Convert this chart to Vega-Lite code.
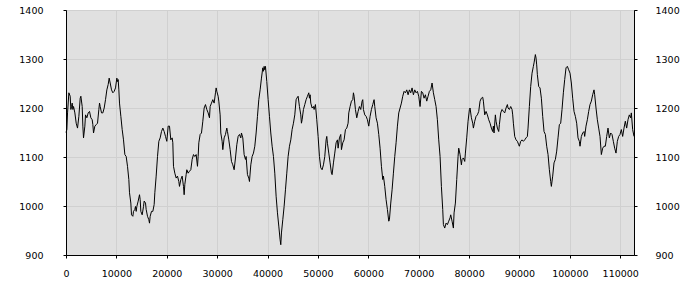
{
 "$schema": "https://vega.github.io/schema/vega-lite/v6.json",
 "width": 568, "height": 245,
 "autosize": {"type": "none"},
 "padding": {"left": 66, "top": 10, "right": 66, "bottom": 45},
 "background": "white",
 "config": {
  "view": {"fill": "#e0e0e0", "stroke": "black", "strokeWidth": 1},
  "axis": {"labelFont": "DejaVu Sans", "labelFontSize": 9.5, "labelColor": "black", "domainColor": "black", "tickColor": "black", "tickSize": 3, "gridColor": "#d0d0d0", "title": null}
 },
 "data": {"values": [
{"t":0,"v":1150},{"t":172,"v":1156},{"t":304,"v":1190},{"t":569,"v":1231},{"t":833,"v":1224},{"t":966,"v":1197},{"t":1098,"v":1203},{"t":1230,"v":1210},{"t":1362,"v":1197},{"t":1495,"v":1203},{"t":1759,"v":1190},{"t":2024,"v":1169},{"t":2288,"v":1159},{"t":2553,"v":1183},{"t":2817,"v":1220},{"t":2950,"v":1224},{"t":3214,"v":1203},{"t":3346,"v":1163},{"t":3479,"v":1139},{"t":3743,"v":1163},{"t":3875,"v":1186},{"t":4140,"v":1180},{"t":4404,"v":1190},{"t":4669,"v":1193},{"t":4933,"v":1180},{"t":5198,"v":1176},{"t":5330,"v":1166},{"t":5462,"v":1149},{"t":5727,"v":1163},{"t":5992,"v":1166},{"t":6256,"v":1169},{"t":6521,"v":1197},{"t":6653,"v":1210},{"t":6785,"v":1203},{"t":7050,"v":1190},{"t":7314,"v":1190},{"t":7579,"v":1200},{"t":7843,"v":1217},{"t":8108,"v":1237},{"t":8372,"v":1248},{"t":8571,"v":1261},{"t":8769,"v":1251},{"t":9034,"v":1237},{"t":9298,"v":1231},{"t":9563,"v":1234},{"t":9827,"v":1241},{"t":10092,"v":1261},{"t":10224,"v":1254},{"t":10356,"v":1258},{"t":10489,"v":1237},{"t":10621,"v":1210},{"t":10885,"v":1183},{"t":11150,"v":1156},{"t":11414,"v":1135},{"t":11679,"v":1105},{"t":11943,"v":1101},{"t":12208,"v":1081},{"t":12472,"v":1054},{"t":12604,"v":1027},{"t":12869,"v":1006},{"t":13001,"v":982},{"t":13266,"v":979},{"t":13398,"v":989},{"t":13663,"v":993},{"t":13795,"v":999},{"t":13927,"v":989},{"t":14060,"v":999},{"t":14324,"v":1010},{"t":14589,"v":1023},{"t":14721,"v":1013},{"t":14853,"v":989},{"t":15118,"v":982},{"t":15382,"v":999},{"t":15514,"v":1010},{"t":15779,"v":1006},{"t":15911,"v":993},{"t":16176,"v":979},{"t":16440,"v":972},{"t":16573,"v":965},{"t":16705,"v":979},{"t":16970,"v":989},{"t":17234,"v":989},{"t":17499,"v":1003},{"t":17631,"v":1027},{"t":17896,"v":1061},{"t":18160,"v":1101},{"t":18425,"v":1132},{"t":18689,"v":1139},
{"t":18953,"v":1152},{"t":19218,"v":1159},{"t":19482,"v":1152},{"t":19747,"v":1142},{"t":20011,"v":1132},{"t":20276,"v":1163},{"t":20540,"v":1163},{"t":20805,"v":1135},{"t":21070,"v":1139},{"t":21202,"v":1129},{"t":21334,"v":1081},{"t":21599,"v":1067},{"t":21863,"v":1057},{"t":22128,"v":1061},{"t":22392,"v":1050},{"t":22524,"v":1040},{"t":22789,"v":1054},{"t":23053,"v":1061},{"t":23318,"v":1040},{"t":23450,"v":1023},{"t":23583,"v":1044},{"t":23847,"v":1064},{"t":23979,"v":1074},{"t":24244,"v":1067},{"t":24508,"v":1071},{"t":24773,"v":1074},{"t":25037,"v":1095},{"t":25302,"v":1105},{"t":25566,"v":1101},{"t":25831,"v":1105},{"t":26095,"v":1081},{"t":26228,"v":1101},{"t":26360,"v":1129},{"t":26625,"v":1146},{"t":26889,"v":1149},{"t":27154,"v":1173},{"t":27418,"v":1200},{"t":27683,"v":1207},{"t":27947,"v":1197},{"t":28212,"v":1190},{"t":28476,"v":1180},{"t":28608,"v":1203},{"t":28873,"v":1210},{"t":29137,"v":1217},{"t":29402,"v":1210},{"t":29666,"v":1231},{"t":29799,"v":1241},{"t":29931,"v":1234},{"t":30196,"v":1224},{"t":30328,"v":1214},{"t":30592,"v":1186},{"t":30725,"v":1149},{"t":30989,"v":1132},{"t":31122,"v":1115},{"t":31386,"v":1139},{"t":31651,"v":1146},{"t":31915,"v":1159},{"t":32048,"v":1152},{"t":32312,"v":1135},{"t":32577,"v":1115},{"t":32841,"v":1091},{"t":33106,"v":1084},{"t":33370,"v":1074},{"t":33635,"v":1098},{"t":33899,"v":1125},{"t":34164,"v":1142},{"t":34428,"v":1146},{"t":34693,"v":1139},{"t":34825,"v":1149},{"t":35090,"v":1139},{"t":35354,"v":1105},{"t":35619,"v":1095},{"t":35751,"v":1101},{"t":36016,"v":1064},{"t":36280,"v":1057},{"t":36412,"v":1050},{"t":36677,"v":1084},{"t":36941,"v":1101},{"t":37206,"v":1108},
{"t":37471,"v":1122},{"t":37736,"v":1149},{"t":38000,"v":1183},{"t":38265,"v":1217},{"t":38529,"v":1237},{"t":38794,"v":1261},{"t":39058,"v":1282},{"t":39191,"v":1275},{"t":39323,"v":1285},{"t":39455,"v":1278},{"t":39587,"v":1285},{"t":39852,"v":1254},{"t":40116,"v":1217},{"t":40381,"v":1183},{"t":40645,"v":1149},{"t":40910,"v":1122},{"t":41174,"v":1101},{"t":41439,"v":1067},{"t":41703,"v":1020},{"t":41968,"v":986},{"t":42232,"v":959},{"t":42497,"v":931},{"t":42629,"v":921},{"t":42761,"v":945},{"t":43026,"v":972},{"t":43291,"v":999},{"t":43555,"v":1033},{"t":43820,"v":1067},{"t":44084,"v":1101},{"t":44349,"v":1122},{"t":44613,"v":1135},{"t":44878,"v":1156},{"t":45142,"v":1169},{"t":45407,"v":1186},{"t":45671,"v":1217},{"t":45804,"v":1220},{"t":46068,"v":1224},{"t":46333,"v":1203},{"t":46597,"v":1186},{"t":46730,"v":1169},{"t":46862,"v":1176},{"t":47126,"v":1197},{"t":47391,"v":1207},{"t":47655,"v":1217},{"t":47920,"v":1224},{"t":48184,"v":1231},{"t":48317,"v":1220},{"t":48449,"v":1227},{"t":48581,"v":1210},{"t":48846,"v":1200},{"t":49111,"v":1203},{"t":49243,"v":1197},{"t":49508,"v":1207},{"t":49772,"v":1176},{"t":50037,"v":1142},{"t":50301,"v":1101},{"t":50566,"v":1078},{"t":50830,"v":1074},{"t":51095,"v":1084},{"t":51359,"v":1101},{"t":51624,"v":1135},{"t":51756,"v":1142},{"t":51888,"v":1128},{"t":52153,"v":1108},{"t":52417,"v":1088},{"t":52682,"v":1067},{"t":52814,"v":1064},{"t":53079,"v":1088},{"t":53343,"v":1108},{"t":53608,"v":1129},{"t":53873,"v":1135},{"t":54005,"v":1118},{"t":54269,"v":1139},{"t":54534,"v":1146},{"t":54666,"v":1115},{"t":54931,"v":1129},{"t":55195,"v":1135},{"t":55460,"v":1156},{"t":55724,"v":1159},{"t":55989,"v":1169},
{"t":56121,"v":1190},{"t":56386,"v":1203},{"t":56650,"v":1214},{"t":56915,"v":1217},{"t":57047,"v":1231},{"t":57179,"v":1224},{"t":57444,"v":1197},{"t":57708,"v":1180},{"t":57973,"v":1193},{"t":58237,"v":1203},{"t":58502,"v":1197},{"t":58766,"v":1214},{"t":58899,"v":1217},{"t":59031,"v":1197},{"t":59295,"v":1186},{"t":59560,"v":1183},{"t":59824,"v":1176},{"t":60089,"v":1163},{"t":60353,"v":1183},{"t":60618,"v":1197},{"t":60882,"v":1207},{"t":61147,"v":1217},{"t":61279,"v":1203},{"t":61544,"v":1180},{"t":61808,"v":1169},{"t":62073,"v":1146},{"t":62337,"v":1118},{"t":62602,"v":1081},{"t":62866,"v":1054},{"t":62999,"v":1061},{"t":63263,"v":1040},{"t":63528,"v":1013},{"t":63792,"v":993},{"t":64057,"v":969},{"t":64189,"v":972},{"t":64454,"v":1006},{"t":64718,"v":1033},{"t":64983,"v":1067},{"t":65247,"v":1101},{"t":65512,"v":1129},{"t":65776,"v":1163},{"t":66041,"v":1190},{"t":66305,"v":1200},{"t":66570,"v":1210},{"t":66834,"v":1224},{"t":67099,"v":1234},{"t":67364,"v":1231},{"t":67628,"v":1237},{"t":67893,"v":1227},{"t":68157,"v":1237},{"t":68422,"v":1231},{"t":68686,"v":1241},{"t":68951,"v":1227},{"t":69215,"v":1237},{"t":69480,"v":1231},{"t":69744,"v":1234},{"t":70009,"v":1224},{"t":70273,"v":1203},{"t":70538,"v":1234},{"t":70802,"v":1231},{"t":71067,"v":1220},{"t":71331,"v":1227},{"t":71596,"v":1214},{"t":71860,"v":1224},{"t":72125,"v":1234},{"t":72389,"v":1237},{"t":72654,"v":1251},{"t":72918,"v":1231},{"t":73183,"v":1217},{"t":73447,"v":1203},{"t":73712,"v":1176},{"t":73976,"v":1135},{"t":74241,"v":1101},{"t":74505,"v":1040},
{"t":74770,"v":993},{"t":74903,"v":962},{"t":75167,"v":955},{"t":75432,"v":965},{"t":75696,"v":962},{"t":75961,"v":969},{"t":76225,"v":976},{"t":76357,"v":982},{"t":76622,"v":969},{"t":76886,"v":955},{"t":77019,"v":986},{"t":77283,"v":1006},{"t":77548,"v":1054},{"t":77812,"v":1101},{"t":77945,"v":1118},{"t":78209,"v":1105},{"t":78474,"v":1084},{"t":78606,"v":1095},{"t":78871,"v":1098},{"t":79135,"v":1091},{"t":79268,"v":1108},{"t":79532,"v":1139},{"t":79797,"v":1173},{"t":80061,"v":1197},{"t":80193,"v":1200},{"t":80458,"v":1180},{"t":80722,"v":1169},{"t":80855,"v":1159},{"t":81120,"v":1173},{"t":81384,"v":1183},{"t":81648,"v":1186},{"t":81913,"v":1193},{"t":82177,"v":1214},{"t":82442,"v":1220},{"t":82706,"v":1222},{"t":82839,"v":1214},{"t":83103,"v":1186},{"t":83368,"v":1193},{"t":83632,"v":1186},{"t":83897,"v":1176},{"t":84161,"v":1169},{"t":84426,"v":1159},{"t":84690,"v":1152},{"t":84823,"v":1163},{"t":84955,"v":1149},{"t":85219,"v":1186},{"t":85352,"v":1173},{"t":85616,"v":1159},{"t":85881,"v":1152},{"t":86013,"v":1166},{"t":86278,"v":1190},{"t":86542,"v":1197},{"t":86807,"v":1193},{"t":87071,"v":1190},{"t":87336,"v":1200},{"t":87600,"v":1207},{"t":87733,"v":1200},{"t":87997,"v":1197},{"t":88262,"v":1203},{"t":88526,"v":1197},{"t":88659,"v":1186},{"t":88791,"v":1169},{"t":89055,"v":1142},{"t":89320,"v":1135},{"t":89585,"v":1132},{"t":89849,"v":1125},{"t":89981,"v":1122},{"t":90246,"v":1132},{"t":90510,"v":1135},{"t":90775,"v":1132},{"t":91039,"v":1135},{"t":91304,"v":1139},{"t":91568,"v":1142},{"t":91700,"v":1159},{"t":91965,"v":1203},{"t":92229,"v":1244},{"t":92494,"v":1271},{"t":92758,"v":1285},
{"t":92891,"v":1292},{"t":93156,"v":1309},{"t":93288,"v":1302},{"t":93420,"v":1288},{"t":93552,"v":1268},{"t":93817,"v":1244},{"t":94081,"v":1241},{"t":94346,"v":1220},{"t":94610,"v":1183},{"t":94875,"v":1152},{"t":95140,"v":1146},{"t":95404,"v":1122},{"t":95669,"v":1105},{"t":95933,"v":1074},{"t":96198,"v":1050},{"t":96330,"v":1040},{"t":96595,"v":1061},{"t":96859,"v":1088},{"t":97124,"v":1095},{"t":97388,"v":1112},{"t":97653,"v":1139},{"t":97917,"v":1166},{"t":98182,"v":1169},{"t":98446,"v":1197},{"t":98711,"v":1231},{"t":98975,"v":1258},{"t":99240,"v":1282},{"t":99504,"v":1285},{"t":99769,"v":1278},{"t":100033,"v":1271},{"t":100298,"v":1251},{"t":100562,"v":1220},{"t":100827,"v":1193},{"t":101091,"v":1183},{"t":101356,"v":1169},{"t":101621,"v":1139},{"t":101885,"v":1132},{"t":102017,"v":1122},{"t":102282,"v":1142},{"t":102546,"v":1149},{"t":102811,"v":1152},{"t":102943,"v":1142},{"t":103207,"v":1163},{"t":103472,"v":1176},{"t":103736,"v":1193},{"t":104001,"v":1207},{"t":104266,"v":1214},{"t":104530,"v":1227},{"t":104795,"v":1237},{"t":104927,"v":1227},{"t":105191,"v":1200},{"t":105456,"v":1176},{"t":105721,"v":1159},{"t":105985,"v":1142},{"t":106250,"v":1105},{"t":106514,"v":1118},{"t":106779,"v":1122},{"t":107043,"v":1122},{"t":107308,"v":1142},{"t":107572,"v":1159},{"t":107837,"v":1139},{"t":108101,"v":1149},{"t":108366,"v":1146},{"t":108631,"v":1132},{"t":108895,"v":1118},{"t":109160,"v":1108},{"t":109424,"v":1132},{"t":109689,"v":1142},{"t":109953,"v":1146},{"t":110218,"v":1156},{"t":110482,"v":1142},{"t":110747,"v":1159},{"t":111011,"v":1173},{"t":111276,"v":1159},{"t":111540,"v":1176},{"t":111805,"v":1186},{"t":112070,"v":1180},{"t":112202,"v":1190},{"t":112466,"v":1156},{"t":112731,"v":1142}
 ]},
 "layer": [
  {
   "mark": {"type": "line", "color": "black", "strokeWidth": 1},
   "encoding": {
    "x": {"field": "t", "type": "quantitative", "scale": {"domain": [0, 112731], "nice": false, "zero": false},
          "axis": {"values": [0,10000,20000,30000,40000,50000,60000,70000,80000,90000,100000,110000], "format": "d", "labelFlush": false, "labelPadding": 10, "grid": true}},
    "y": {"field": "v", "type": "quantitative", "scale": {"domain": [900, 1400], "nice": false, "zero": false},
          "axis": {"values": [900,1000,1100,1200,1300,1400], "format": "d", "labelPadding": 20, "grid": true, "labelFlush": false}}
   }
  },
  {
   "mark": {"type": "line", "strokeOpacity": 0},
   "encoding": {
    "x": {"field": "t", "type": "quantitative"},
    "y": {"field": "v", "type": "quantitative",
          "axis": {"orient": "right", "values": [900,1000,1100,1200,1300,1400], "format": "d", "labelPadding": 18, "grid": false, "labelFlush": false}}
   }
  }
 ],
 "resolve": {"axis": {"y": "independent"}}
}
